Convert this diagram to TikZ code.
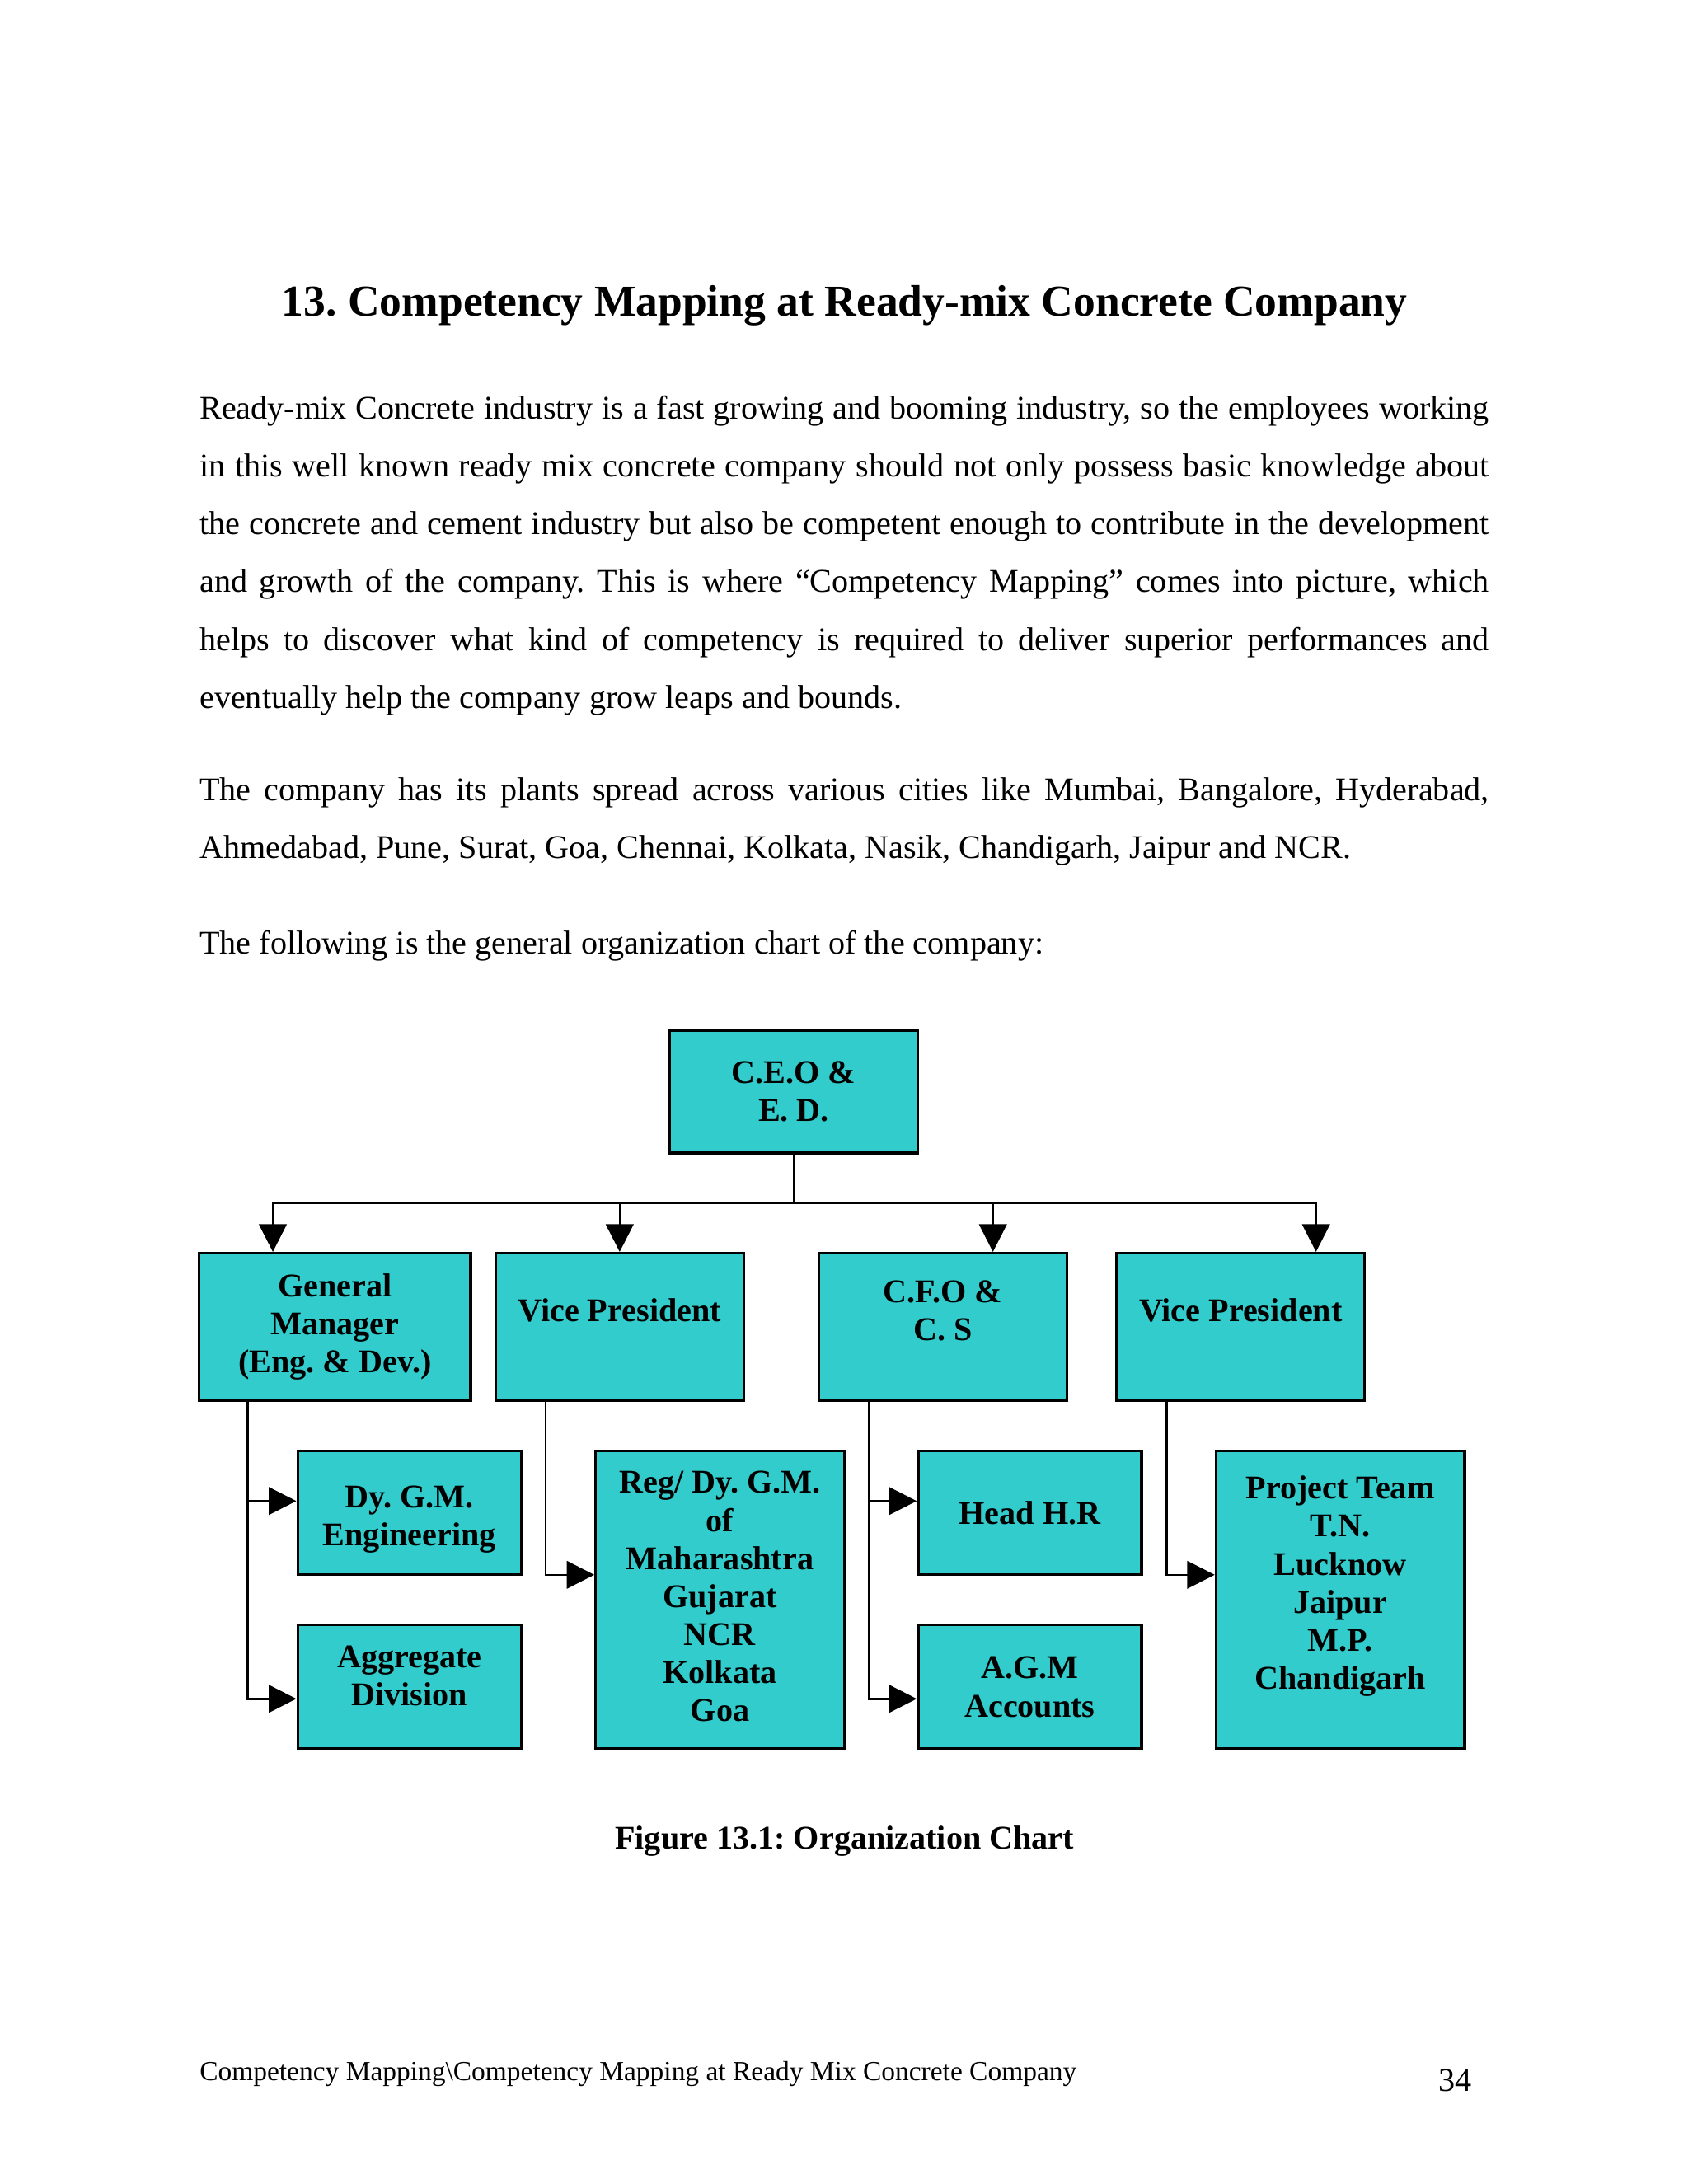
\documentclass[tikz,border=0pt]{standalone}
\usepackage{fontspec}
\setmainfont{Liberation Serif}
\usetikzlibrary{arrows.meta}
\definecolor{c1}{RGB}{51,204,204}
\tikzstyle{org chart}=[
    box/.style={rectangle, draw, line width=1pt, fill=c1, align=center, inner sep=2pt,
        font={\fontsize{12}{13.8}\selectfont\bfseries}},
    top box/.style={box, minimum width=89.9pt, minimum height=44.4pt},
    mid box/.style={box, minimum width=89.9pt, minimum height=53.5pt},
    low box/.style={box, minimum width=81pt, minimum height=44.9pt},
    tall box/.style={box, minimum width=90.1pt, minimum height=108.1pt},
    raised/.style={text depth=##1},
    link/.style={line width=0.75pt, -{Triangle[length=10pt,width=10pt]}},
    stem/.style={line width=0.75pt},
]
\tikzstyle{page text}=[
    body/.style={anchor=base west, inner sep=0pt, text width=467.6pt, align=justify,
        font={\fontsize{12}{20.96}\selectfont\hyphenpenalty=10000\exhyphenpenalty=10000}},
    heading/.style={anchor=base, inner sep=0pt, font={\fontsize{16}{19}\selectfont\bfseries}},
    caption/.style={anchor=base, inner sep=0pt, font={\fontsize{12}{14}\selectfont\bfseries}},
]
\begin{document}
\frenchspacing
\begin{tikzpicture}
[
    org chart, page text,
    x=0.50495pt, y=-0.50495pt
]
    \useasboundingbox (0,0) rectangle (1212,1568.5);

    % page text
    \node[heading] (title) at (606.5,227) {13. Competency Mapping at Ready-mix Concrete Company};
    \node[body] (par1) at (143,301) {Ready-mix Concrete industry is a fast growing and booming industry, so the employees working\linebreak
        in this well known ready mix concrete company should not only possess basic knowledge about\linebreak
        the concrete and cement industry but also be competent enough to contribute in the development\linebreak
        and growth of the company. This is where “Competency Mapping” comes into picture, which\linebreak
        helps to discover what kind of competency is required to deliver superior performances and\linebreak
        eventually help the company grow leaps and bounds.};
    \node[body] (par2) at (143,575) {The company has its plants spread across various cities like Mumbai, Bangalore, Hyderabad,\linebreak
        Ahmedabad, Pune, Surat, Goa, Chennai, Kolkata, Nasik, Chandigarh, Jaipur and NCR.};
    \node[body] (par3) at (143,685) {The following is the general organization chart of the company:};

    % chart
    \node[top box] (ceo) at (570,784) {C.E.O \&\\E. D.};
    \node[mid box, minimum width=98.5pt] (gm) at (240.5,953) {General\\Manager\\(Eng. \& Dev.)};
    \node[mid box, raised=12.1pt] (vp1) at (445,953) {Vice President};
    \node[mid box, raised=12.1pt] (cfo) at (677,953) {C.F.O \&\\C. S};
    \node[mid box, raised=12.1pt] (vp2) at (891,953) {Vice President};
    \node[low box, raised=0pt, text height=23.8pt] (dygm) at (294,1086.5) {Dy. G.M.\\Engineering};
    \node[low box, raised=8pt] (agg) at (294,1211.5) {Aggregate\\Division};
    \node[tall box, raised=2.5pt] (reg) at (517,1149) {Reg/ Dy. G.M.\\of\\Maharashtra\\Gujarat\\NCR\\Kolkata\\Goa};
    \node[low box] (hr) at (739.5,1086.5) {Head H.R};
    \node[low box] (agm) at (739.5,1211.5) {A.G.M\\Accounts};
    \node[tall box, raised=12.6pt] (proj) at (962.5,1149) {Project Team\\T.N.\\Lucknow\\Jaipur\\M.P.\\Chandigarh};

    \coordinate (bus) at (570,864);
    \draw[stem] (ceo.south) -- (bus);
    \draw[link] (bus) -| ([xshift=-22.5pt]gm.north);
    \draw[link] (bus) -| (vp1.north);
    \draw[link] (bus) -| ([xshift=18.2pt]cfo.north);
    \draw[link] (bus) -| ([xshift=27.3pt]vp2.north);

    \draw[link] ([xshift=-31.6pt]gm.south) |- ([yshift=4.3pt]dygm.west);
    \draw[link] ([xshift=-31.6pt]gm.south) |- ([yshift=-4.3pt]agg.west);
    \draw[link] ([xshift=-26.8pt]vp1.south) |- ([yshift=9.1pt]reg.west);
    \draw[link] ([xshift=-26.8pt]cfo.south) |- ([yshift=4.3pt]hr.west);
    \draw[link] ([xshift=-26.8pt]cfo.south) |- ([yshift=-4.3pt]agm.west);
    \draw[link] ([xshift=-26.8pt]vp2.south) |- ([yshift=9.1pt]proj.west);

    \node[caption] (fig) at (606.5,1328) {Figure 13.1: Organization Chart};
    \node[anchor=base west, inner sep=0pt, font={\fontsize{10}{12}\selectfont}] (footer) at (143,1494)
        {Competency Mapping\textbackslash Competency Mapping at Ready Mix Concrete Company};
    \node[anchor=base east, inner sep=0pt, font={\fontsize{12}{14}\selectfont}] (page) at (1057,1502) {34};
\end{tikzpicture}
\end{document}
